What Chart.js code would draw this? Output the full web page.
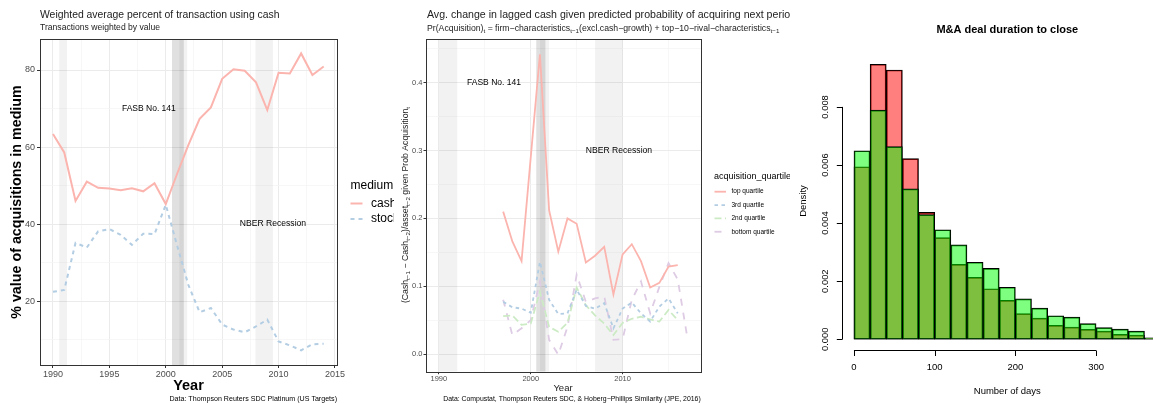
<!DOCTYPE html>
<html>
<head>
<meta charset="utf-8">
<script src="https://cdn.jsdelivr.net/npm/chart.js@4.4.0/dist/chart.umd.min.js"></script>
<style>
html, body { margin: 0; padding: 0; background: #fff; overflow: hidden; width: 1153px; height: 403px; }
canvas { position: absolute; top: 0; background: #fff; }
#cashChart { left: 0; }
#quartileChart { left: 394px; }
#durationChart { left: 790px; }
</style>
</head>
<body>
<canvas id="cashChart" width="394" height="403"></canvas>
<canvas id="quartileChart" width="396" height="403"></canvas>
<canvas id="durationChart" width="390" height="403"></canvas>
<script>
// --- panel 1: share of deal value paid in cash / stock
const cashYears = [1990, 1991, 1992, 1993, 1994, 1995, 1996, 1997, 1998, 1999, 2000, 2001, 2002,
                   2003, 2004, 2005, 2006, 2007, 2008, 2009, 2010, 2011, 2012, 2013, 2014];
const cashShare = [63.4, 58.6, 46.0, 51.0, 49.4, 49.2, 48.8, 49.3, 48.5, 50.6, 45.2, 53.0, 60.5,
                   67.3, 70.3, 77.7, 80.2, 79.8, 76.8, 69.6, 79.3, 79.1, 84.3, 78.7, 80.9];
const stockShare = [22.4, 22.9, 35.1, 33.9, 38.1, 38.7, 37.2, 34.6, 37.5, 37.4, 45.0, 34.5, 24.2,
                    17.1, 18.2, 13.9, 12.6, 11.9, 13.4, 15.2, 9.5, 8.5, 7.2, 8.8, 8.9];
const cashXTicks = [1990, 1995, 2000, 2005, 2010, 2015];
const cashYTicks = [20, 40, 60, 80];
const cashRecessions = [[1990.55, 1991.25], [2001.2, 2001.9], [2007.95, 2009.5]];
const cashFasb = [2000.55, 2001.6];

// --- panel 2: change in lagged cash by acquisition-probability quartile
const quartileYears = [1997, 1998, 1999, 2000, 2001, 2002, 2003, 2004, 2005, 2006, 2007,
                       2008, 2009, 2010, 2011, 2012, 2013, 2014, 2015, 2016, 2017];
const topQuartile = [0.210, 0.166, 0.137, 0.290, 0.442, 0.212, 0.151, 0.200, 0.192, 0.135, 0.145,
                     0.158, 0.088, 0.147, 0.162, 0.137, 0.098, 0.105, 0.129, 0.131, null];
const thirdQuartile = [0.077, 0.069, 0.067, 0.061, 0.136, 0.080, 0.059, 0.060, 0.095, 0.071, 0.067,
                       0.075, 0.038, 0.067, 0.076, 0.060, 0.048, 0.070, 0.082, 0.060, null];
const secondQuartile = [0.056, 0.057, 0.043, 0.045, 0.092, 0.040, 0.033, 0.046, 0.098, 0.072, 0.057,
                        0.045, 0.028, 0.046, 0.052, 0.055, 0.051, 0.048, 0.065, 0.050, null];
const bottomQuartile = [0.080, 0.028, 0.038, 0.050, 0.107, 0.021, -0.001, 0.040, 0.117, 0.077, 0.082,
                        0.085, 0.021, 0.022, 0.080, 0.107, 0.060, 0.099, 0.134, 0.110, 0.028];
const quartileXTicks = [1990, 2000, 2010];
const quartileYTicks = [0, 0.1, 0.2, 0.3, 0.4];
const quartileRecessions = [[1990, 1992], [2001, 2002], [2007, 2010]];
const quartileFasb = [2000.6, 2001.6];

// --- panel 3: histogram of days to close (bins of 20 days)
const durationBins = [0, 20, 40, 60, 80, 100, 120, 140, 160, 180, 200, 220, 240, 260, 280, 300, 320, 340, 360];
const densityRed = [0.00594, 0.00947, 0.00927, 0.00622, 0.00437, 0.00350, 0.00258, 0.00213, 0.00174, 0.00134,
                    0.00088, 0.00073, 0.00048, 0.00042, 0.00034, 0.00028, 0.00017, 0.00014, 0.00005];
const densityGreen = [0.00649, 0.00789, 0.00663, 0.00518, 0.00429, 0.00377, 0.00325, 0.00265, 0.00244, 0.00179,
                      0.00139, 0.00107, 0.00081, 0.00076, 0.00054, 0.00040, 0.00035, 0.00028, 0.00004];
const daysTicks = [0, 100, 200, 300];
const densityTicks = [0, 0.002, 0.004, 0.006, 0.008];

const FONT = '"Liberation Sans", Arial, Helvetica, sans-serif';
Chart.defaults.font.family = FONT;
Chart.defaults.animation = false;

function text(ctx, s, x, y, size, o = {}) {
    ctx.save();
    ctx.font = (o.bold ? 'bold ' : '') + size + 'px ' + FONT;
    ctx.fillStyle = o.color || '#000';
    ctx.textAlign = o.align || 'left';
    ctx.textBaseline = 'middle';
    ctx.translate(x, y);
    if (o.rotate) ctx.rotate(o.rotate);
    ctx.fillText(s, 0, 0);
    ctx.restore();
}

// text with subscripts: segs = [[string, isSub], ...]
function richText(ctx, segs, x, y, size, o = {}) {
    ctx.save();
    ctx.translate(x, y);
    if (o.rotate) ctx.rotate(o.rotate);
    ctx.fillStyle = o.color || '#000';
    ctx.textBaseline = 'alphabetic';
    const sub = size * 0.72;
    let w = 0;
    segs.forEach(([s, isSub]) => { ctx.font = (isSub ? sub : size) + 'px ' + FONT; w += ctx.measureText(s).width; });
    let cx = o.align === 'center' ? -w / 2 : 0;
    segs.forEach(([s, isSub]) => {
        ctx.font = (isSub ? sub : size) + 'px ' + FONT;
        ctx.fillText(s, cx, size * 0.35 + (isSub ? size * 0.25 : 0));
        cx += ctx.measureText(s).width;
    });
    ctx.restore();
}

function withMinor(major, min, max) {
    const half = (major[1] - major[0]) / 2;
    const out = [];
    for (let k = -1; major[0] + k * half <= max; k++) {
        const v = Math.round((major[0] + k * half) * 1e6) / 1e6;
        if (v >= min) out.push(v);
    }
    return out;
}

function ggScale(min, max, major, fmt, size, fit, pad, tickLen) {
    const all = withMinor(major, min, max);
    const isMajor = c => c.tick && major.includes(c.tick.value);
    return {
        type: 'linear', min, max,
        afterBuildTicks: s => { s.ticks = all.map(v => ({ value: v })); },
        afterFit: s => { if (s.isHorizontal()) s.height = fit; else s.width = fit; },
        ticks: {
            autoSkip: false, maxRotation: 0, minRotation: 0, padding: pad,
            color: '#4d4d4d', font: { size },
            callback: v => major.includes(v) ? fmt(v) : ''
        },
        grid: {
            color: c => isMajor(c) ? '#ebebeb' : '#f3f3f3',
            lineWidth: c => isMajor(c) ? 1 : 0.7,
            tickColor: c => isMajor(c) ? '#333' : 'rgba(0,0,0,0)',
            tickLength: tickLen, tickWidth: 1
        },
        border: { display: false }
    };
}

function bandsPlugin(recessions, fasb) {
    return {
        id: 'bands',
        beforeDatasetsDraw(chart) {
            const { ctx, chartArea: a, scales: { x } } = chart;
            ctx.save();
            ctx.beginPath();
            ctx.rect(a.left, a.top, a.right - a.left, a.bottom - a.top);
            ctx.clip();
            ctx.fillStyle = 'rgba(0,0,0,0.05)';
            recessions.forEach(([f, t]) => {
                const x0 = x.getPixelForValue(f), x1 = x.getPixelForValue(t);
                ctx.fillRect(x0, a.top, x1 - x0, a.bottom - a.top);
            });
            ctx.fillStyle = 'rgba(0,0,0,0.12)';
            const f0 = x.getPixelForValue(fasb[0]), f1 = x.getPixelForValue(fasb[1]);
            ctx.fillRect(f0, a.top, f1 - f0, a.bottom - a.top);
            ctx.restore();
        },
        afterDatasetsDraw(chart) {
            const { ctx, chartArea: a } = chart;
            ctx.save();
            ctx.strokeStyle = '#333';
            ctx.lineWidth = 1;
            ctx.strokeRect(Math.round(a.left) + 0.5, Math.round(a.top) + 0.5,
                           Math.round(a.right - a.left), Math.round(a.bottom - a.top));
            ctx.restore();
        }
    };
}

function legendKey(ctx, ds, x0, x1, y) {
    ctx.save();
    ctx.strokeStyle = ds.borderColor;
    ctx.lineWidth = ds.borderWidth;
    ctx.setLineDash(ds.borderDash || []);
    ctx.beginPath();
    ctx.moveTo(x0, y);
    ctx.lineTo(x1, y);
    ctx.stroke();
    ctx.restore();
}

const lineDefaults = { pointRadius: 0, borderWidth: 2, tension: 0, spanGaps: false, fill: false };
const points = (xs, ys) => xs.map((x, i) => ({ x, y: ys[i] }));

// ---------------- panel 1
new Chart(document.getElementById('cashChart'), {
    type: 'line',
    data: {
        datasets: [
            { ...lineDefaults, label: 'cash', data: points(cashYears, cashShare), borderColor: '#FBB4AE' },
            { ...lineDefaults, label: 'stock', data: points(cashYears, stockShare), borderColor: '#B3CDE3', borderDash: [4, 4] }
        ]
    },
    options: {
        responsive: false, devicePixelRatio: 1,
        layout: { padding: { left: 0, right: 57, top: 39, bottom: 0 } },
        plugins: { legend: { display: false }, tooltip: { enabled: false } },
        scales: {
            x: ggScale(1988.85, 2015.18, cashXTicks, v => String(v), 9, 38, 1, 3),
            y: ggScale(3.4, 88.05, cashYTicks, v => String(v), 9, 40, 2, 3)
        }
    },
    plugins: [bandsPlugin(cashRecessions, cashFasb), {
        id: 'cashText',
        afterDraw(chart) {
            const { ctx, scales: { x, y } } = chart;
            text(ctx, 'FASB No. 141', x.getPixelForValue(1998.5), y.getPixelForValue(70), 8.5, { align: 'center' });
            text(ctx, 'NBER Recession', x.getPixelForValue(2009.5), y.getPixelForValue(40), 8.6, { align: 'center' });
            text(ctx, 'Weighted average percent of transaction using cash', 40, 15, 10.4, { color: '#222' });
            text(ctx, 'Transactions weighted by value', 40, 28, 8.6, { color: '#222' });
            text(ctx, '% value of acquisitions in medium', 17, 202, 14.3, { bold: true, align: 'center', rotate: -Math.PI / 2 });
            text(ctx, 'Year', 188.5, 386, 14.5, { bold: true, align: 'center' });
            text(ctx, 'Data: Thompson Reuters SDC Platinum (US Targets)', 337, 399, 7.1, { align: 'right' });
            text(ctx, 'medium', 350.5, 186, 12);
            const ds = chart.data.datasets;
            legendKey(ctx, ds[0], 350.5, 362.5, 203.5);
            legendKey(ctx, ds[1], 350.5, 362.5, 219);
            text(ctx, 'cash', 371, 203.5, 12);
            text(ctx, 'stock', 371, 219, 12);
        }
    }]
});

// ---------------- panel 2
const quartileSeries = [
    ['top quartile', topQuartile, '#FBB4AE', []],
    ['3rd quartile', thirdQuartile, '#B3CDE3', [3.5, 3.5]],
    ['2nd quartile', secondQuartile, '#CCEBC5', [7, 3.5]],
    ['bottom quartile', bottomQuartile, '#DECBE4', [7, 7]]
];
new Chart(document.getElementById('quartileChart'), {
    type: 'line',
    data: {
        datasets: quartileSeries.map(([label, ys, color, dash]) => ({
            ...lineDefaults, borderWidth: 1.8, label, data: points(quartileYears, ys), borderColor: color, borderDash: dash
        }))
    },
    options: {
        responsive: false, devicePixelRatio: 1,
        layout: { padding: { left: 0, right: 89.3, top: 39, bottom: 0 } },
        plugins: { legend: { display: false }, tooltip: { enabled: false } },
        scales: {
            x: ggScale(1988.6, 2018.5, quartileXTicks, v => String(v), 7.5, 31.3, 0, 2.5),
            y: ggScale(-0.026, 0.4645, quartileYTicks, v => v.toFixed(1), 7.5, 32, 1, 2.5)
        }
    },
    plugins: [bandsPlugin(quartileRecessions, quartileFasb), {
        id: 'quartileText',
        afterDraw(chart) {
            const { ctx, scales: { x, y } } = chart;
            text(ctx, 'FASB No. 141', x.getPixelForValue(1996), y.getPixelForValue(0.4), 8.5, { align: 'center' });
            text(ctx, 'NBER Recession', x.getPixelForValue(2009.6), y.getPixelForValue(0.3), 8.6, { align: 'center' });
            text(ctx, 'Avg. change in lagged cash given predicted probability of acquiring next period', 33, 15, 10.6, { color: '#222' });
            richText(ctx, [['Pr(Acquisition)'], ['t', 1], [' = firm\u2212characteristics'], ['t\u22121', 1],
                           ['(excl.cash\u2212growth) + top\u221210\u2212rival\u2212characteristics'], ['t\u22121', 1]],
                     33, 27.5, 8.7, { color: '#222' });
            richText(ctx, [['(Cash'], ['t\u22121', 1], [' \u2212 Cash'], ['t\u22122', 1], [')/asset'], ['t\u22122', 1],
                           [' given Prob Acquisition'], ['t', 1]],
                     11, 205, 8.7, { align: 'center', rotate: -Math.PI / 2, color: '#222' });
            text(ctx, 'Year', 169, 388, 9.5, { align: 'center', color: '#222' });
            text(ctx, 'Data: Compustat, Thompson Reuters SDC, & Hoberg\u2212Phillips Similarity (JPE, 2016)', 306.7, 399.5, 6.9, { align: 'right' });
            text(ctx, 'acquisition_quartile', 320, 177, 9);
            chart.data.datasets.forEach((ds, i) => {
                const yy = 191.7 + i * 13.35;
                legendKey(ctx, ds, 320.5, 332, yy);
                text(ctx, ds.label, 337.5, yy, 6.5);
            });
        }
    }]
});

// ---------------- panel 3
const binMid = durationBins.map(b => b + 10);
new Chart(document.getElementById('durationChart'), {
    type: 'bar',
    data: {
        datasets: [
            { data: points(binMid, densityRed), backgroundColor: 'rgba(255,0,0,0.5)', order: 1 },
            { data: points(binMid, densityGreen), backgroundColor: 'rgba(0,255,0,0.5)', order: 0 }
        ]
    },
    options: {
        responsive: false, devicePixelRatio: 1,
        layout: { padding: { left: 51.7, right: 7.1, top: 52.3, bottom: 52.7 } },
        plugins: { legend: { display: false }, tooltip: { enabled: false } },
        datasets: { bar: { grouped: false, barPercentage: 1, categoryPercentage: 1, borderColor: '#000', borderWidth: 1, borderSkipped: false } },
        scales: {
            x: { type: 'linear', min: -15.2, max: 395.2, offset: false, display: false },
            y: { type: 'linear', min: -0.00038, max: 0.00988, display: false }
        }
    },
    plugins: [{
        id: 'baseAxes',
        afterDraw(chart) {
            const { ctx, chartArea: a, scales: { x, y } } = chart;
            ctx.save();
            ctx.strokeStyle = '#000';
            ctx.lineWidth = 1;
            const ax = Math.round(a.left) + 0.5;
            const ay = Math.round(a.bottom) + 0.5;
            ctx.beginPath();
            ctx.moveTo(ax, y.getPixelForValue(densityTicks[0]));
            ctx.lineTo(ax, y.getPixelForValue(densityTicks[densityTicks.length - 1]));
            densityTicks.forEach(v => { const py = Math.round(y.getPixelForValue(v)) + 0.5; ctx.moveTo(ax, py); ctx.lineTo(ax - 5.7, py); });
            ctx.moveTo(x.getPixelForValue(daysTicks[0]), ay);
            ctx.lineTo(x.getPixelForValue(daysTicks[daysTicks.length - 1]), ay);
            daysTicks.forEach(v => { const px = Math.round(x.getPixelForValue(v)) + 0.5; ctx.moveTo(px, ay); ctx.lineTo(px, ay + 5.5); });
            ctx.stroke();
            ctx.restore();
            densityTicks.forEach(v => text(ctx, v.toFixed(3), a.left - 16.7, y.getPixelForValue(v), 9.4, { align: 'center', rotate: -Math.PI / 2 }));
            daysTicks.forEach(v => text(ctx, String(v), x.getPixelForValue(v), a.bottom + 17.4, 9.5, { align: 'center' }));
            text(ctx, 'M&A deal duration to close', 217.3, 30, 11, { bold: true, align: 'center' });
            text(ctx, 'Number of days', 217.3, 391, 9.5, { align: 'center' });
            text(ctx, 'Density', 13.7, 201, 9.5, { align: 'center', rotate: -Math.PI / 2 });
        }
    }]
});
</script>
</body>
</html>
